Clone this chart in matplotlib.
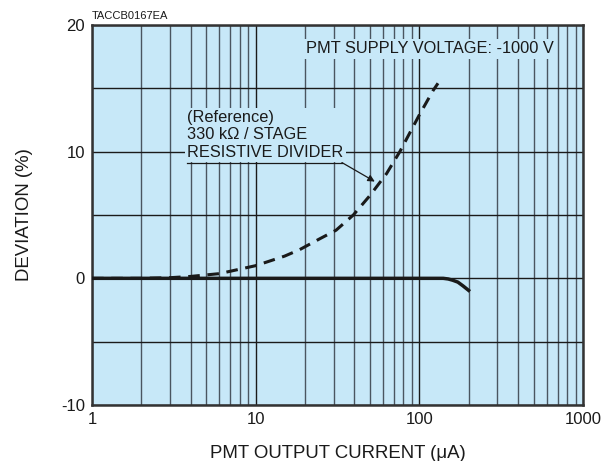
import numpy as np
import matplotlib
matplotlib.use("Agg")
import matplotlib.pyplot as plt
from matplotlib.ticker import LogLocator, FixedLocator, NullFormatter

plt.rcParams['font.family'] = ['Liberation Sans', 'DejaVu Sans']

# reference divider (330 kOhm / stage), dashed
ref_current = [1, 2, 3, 4, 6, 10, 15, 18.6, 24.7, 31, 39.5, 50, 63, 76, 100, 121, 130]
ref_dev = [0.0, 0.0, 0.05, 0.15, 0.37, 1.0, 1.75, 2.27, 3.13, 3.8, 5.0, 6.55, 8.26, 10.0, 12.9, 14.8, 15.4]

# measured curve, solid
meas_current = [1, 10, 100, 140, 150, 160, 172, 185, 200]
meas_dev = [0.0, 0.0, 0.0, 0.0, -0.05, -0.15, -0.3, -0.6, -0.95]

x_ticks = [1, 10, 100, 1000]
x_ticklabels = ['1', '10', '100', '1000']
y_ticks = [-10, 0, 10, 20]
y_ticklabels = ['-10', '0', '10', '20']

bg = '#c7e8f8'

fig = plt.figure(figsize=(6.04, 4.61), dpi=100)
ax = fig.add_axes([92 / 604, 1 - 405 / 461, (583 - 92) / 604, (405 - 25) / 461])
ax.set_facecolor(bg)

ax.set_xscale('log')
ax.set_xlim(1, 1000)
ax.set_ylim(-10, 20)

ax.xaxis.set_major_locator(FixedLocator(x_ticks))
ax.set_xticklabels(x_ticklabels)
ax.xaxis.set_minor_locator(LogLocator(base=10, subs=np.arange(2, 10)))
ax.xaxis.set_minor_formatter(NullFormatter())
ax.set_yticks(y_ticks)
ax.set_yticklabels(y_ticklabels)
ax.yaxis.set_minor_locator(FixedLocator([-5, 5, 15]))

ax.grid(True, which='major', axis='both', color='#1a1a1a', lw=1.0, zorder=1)
ax.grid(True, which='minor', axis='x', color='#4a5560', lw=1.0, zorder=1)
ax.grid(True, which='minor', axis='y', color='#1a1a1a', lw=1.0, zorder=1)
ax.set_axisbelow(True)
ax.tick_params(which='both', length=0, labelsize=12, colors='#1a1a1a', pad=5)

for s in ax.spines.values():
    s.set_linewidth(1.8)
    s.set_color('#333333')

ax.plot(ref_current, ref_dev, color='#1a1a1a', lw=2.2, ls=(0, (3.8, 2.5)), zorder=3)
ax.plot(meas_current, meas_dev, color='#1a1a1a', lw=2.5, zorder=4)

ax.set_xlabel('PMT OUTPUT CURRENT (\u03bcA)', fontsize=13.4, color='#1a1a1a', labelpad=13)
ax.set_ylabel('DEVIATION (%)', fontsize=13.4, color='#1a1a1a', labelpad=20)

box = dict(facecolor=bg, edgecolor='none', pad=1.5)
ax.text(0.436, 0.937, 'PMT SUPPLY VOLTAGE: -1000 V', transform=ax.transAxes,
        fontsize=11.8, color='#1a1a1a', ha='left', va='center', bbox=box, zorder=5)
ax.text(0.194, 0.711, '(Reference)\n330 k\u03a9 / STAGE\nRESISTIVE DIVIDER', transform=ax.transAxes,
        fontsize=11.8, color='#1a1a1a', ha='left', va='center', linespacing=1.2,
        bbox=box, zorder=5)

# leader: underline then arrow to the dashed curve
ax.annotate('', xy=(0.576, 0.588), xytext=(0.509, 0.638), xycoords='axes fraction',
            arrowprops=dict(arrowstyle='-|>', color='#1a1a1a', lw=0.9,
                            mutation_scale=10, shrinkA=0, shrinkB=0), zorder=6)
ax.plot([0.194, 0.509], [0.638, 0.638], transform=ax.transAxes, color='#1a1a1a', lw=0.9, zorder=6)

fig.text(92 / 604, 1 - 16 / 461, 'TACCB0167EA', fontsize=8, color='#1a1a1a', ha='left', va='center')

fig.savefig('out.png', dpi=100)
